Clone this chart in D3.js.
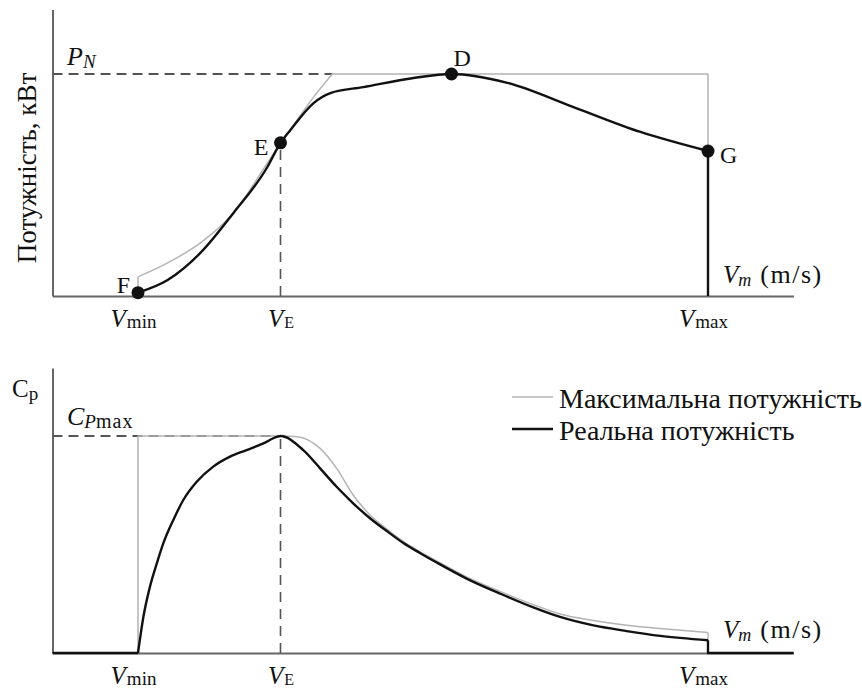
<!DOCTYPE html>
<html>
<head>
<meta charset="utf-8">
<script src="https://cdn.jsdelivr.net/npm/d3@7"></script>
<style>
  body { margin: 0; background: #fff; }
  svg { display: block; }
  text { font-family: "Liberation Serif", "Times New Roman", serif; fill: #111; }
</style>
</head>
<body>
<svg id="chart" width="862" height="690"></svg>
<script>
// Wind speed (m/s): cut-in, rated (point E) and cut-out speeds
const windDomain = [0, 26];
const speedTicks = [3, 8, 23];
const speedTickSubs = ["min", "E", "max"];

// Upper panel: power, normalised to the rated power P_N = 1
const powerMaxFoot = [[3, 0.015], [3, 0.086]];
const powerMaxRise = [[3, 0.086], [4.04, 0.149], [5.19, 0.239], [6.35, 0.374], [7.54, 0.599],
                      [8.0, 0.69], [8.35, 0.75], [9.16, 0.896], [9.82, 1.0]];
const powerMaxCap = [[9.82, 1.0], [23, 1.0], [23, 0.653]];
const powerReal = [[3, 0.015], [4.04, 0.072], [5.19, 0.194], [6.35, 0.374], [7.54, 0.581],
                   [8.0, 0.69], [8.35, 0.748], [9.16, 0.869], [9.75, 0.914], [10.91, 0.941],
                   [12.67, 0.982], [14, 1.0], [15.96, 0.96], [18.28, 0.851], [20.63, 0.739], [23, 0.653]];
const powerRealCut = [[23, 0.653], [23, 0]];
const powerPointNames = ["F", "E", "D", "G"];
const powerPointSpeeds = [3, 8, 14, 23];
const powerPointValues = [0.015, 0.69, 1.0, 0.653];

// Lower panel: power coefficient, normalised to C_Pmax = 1
const cpMaxStep = [[3, 0], [3, 1], [8, 1]];
const cpMaxFall = [[8, 1], [8.58, 0.997], [9.39, 0.943], [9.97, 0.851], [10.55, 0.728], [11.14, 0.636],
                   [11.73, 0.572], [12.31, 0.514], [12.89, 0.467], [13.48, 0.424], [14.53, 0.351],
                   [15.7, 0.284], [16.87, 0.223], [17.81, 0.18], [18.98, 0.15], [20.15, 0.128],
                   [21.32, 0.113], [23, 0.094]];
const cpMaxCut = [[23, 0.094], [23, 0.059]];
const cpRealIdle = [[0, 0], [3, 0]];
const cpReal = [[3, 0], [3.19, 0.167], [3.42, 0.306], [3.66, 0.413], [3.89, 0.506], [4.24, 0.613],
                [4.59, 0.705], [5.06, 0.789], [5.64, 0.859], [6.23, 0.905], [6.81, 0.935], [7.4, 0.966],
                [7.87, 0.996], [8, 1.0], [8.8, 0.935], [9.39, 0.851], [9.97, 0.766], [10.55, 0.69],
                [11.14, 0.621], [11.73, 0.562], [12.31, 0.507], [12.89, 0.461], [13.48, 0.417],
                [14.53, 0.343], [15.7, 0.274], [16.87, 0.21], [17.81, 0.166], [18.98, 0.127],
                [20.15, 0.101], [21.32, 0.079], [23, 0.059]];
const cpRealCut = [[23, 0.059], [23, 0], [26, 0]];

const legendLabels = ["Максимальна потужність", "Реальна потужність"];

const svg = d3.select("#chart");
const x = d3.scaleLinear().domain(windDomain).range([52.5, 793.5]);
const yTop = d3.scaleLinear().domain([0, 1]).range([296, 74]);
const yBot = d3.scaleLinear().domain([0, 1]).range([653, 436]);

const GREY = "#b4b4b4", BLACK = "#111", AXIS = "#666", DASH = "#555";

function drawAxes(y, yTopValue) {
  const yAxisScale = y.copy().domain([0, yTopValue]).range([y(0), y(yTopValue)]);
  const gy = svg.append("g").attr("transform", `translate(${x(0)},0)`)
    .call(d3.axisLeft(yAxisScale).tickValues([]).tickSizeOuter(0));
  gy.select(".domain").attr("stroke", AXIS).attr("stroke-width", 2);

  const gx = svg.append("g").attr("transform", `translate(0,${y(0)})`)
    .call(d3.axisBottom(x).tickValues(speedTicks).tickSize(0).tickSizeOuter(0).tickFormat(() => ""));
  gx.select(".domain").attr("stroke", AXIS).attr("stroke-width", 2);
  gx.selectAll(".tick text").each(function (d, i) {
    const t = d3.select(this)
      .attr("y", 31).attr("dy", null)
      .attr("dx", i === 1 ? 0 : -5)
      .attr("fill", BLACK).attr("text-anchor", "middle")
      .attr("font-family", "Liberation Serif");
    t.append("tspan").attr("font-style", "italic").attr("font-size", 25).text("V");
    t.append("tspan").attr("font-size", i === 1 ? 16 : 19).attr("dy", 1).attr("dx", 1).text(speedTickSubs[i]);
  });
}

function curve(data, y, color, width, kind) {
  svg.append("path").datum(data)
    .attr("fill", "none").attr("stroke", color).attr("stroke-width", width)
    .attr("stroke-linejoin", "round")
    .attr("d", d3.line().x(d => x(d[0])).y(d => y(d[1])).curve(kind));
}

function axisTitle(px, py) {
  const t = svg.append("text").attr("x", px).attr("y", py);
  t.append("tspan").attr("font-style", "italic").attr("font-size", 25).text("V");
  t.append("tspan").attr("font-style", "italic").attr("font-size", 18).attr("dy", 3).text("m");
  t.append("tspan").attr("font-size", 26).attr("dy", -3).attr("dx", 9)
    .attr("letter-spacing", 1.5).text("(m/s)");
}

// ---------- Upper panel ----------
drawAxes(yTop, 1.29);

// rated power and rated speed guides
svg.append("line")
  .attr("x1", x(0)).attr("x2", x(9.82)).attr("y1", yTop(1)).attr("y2", yTop(1))
  .attr("stroke", DASH).attr("stroke-width", 2).attr("stroke-dasharray", "10,6");
svg.append("line")
  .attr("x1", x(speedTicks[1])).attr("x2", x(speedTicks[1]))
  .attr("y1", yTop(0)).attr("y2", yTop(powerPointValues[1]))
  .attr("stroke", DASH).attr("stroke-width", 1.6).attr("stroke-dasharray", "10,7");

curve(powerMaxFoot, yTop, GREY, 1.5, d3.curveLinear);
curve(powerMaxRise, yTop, GREY, 1.5, d3.curveMonotoneX);
curve(powerMaxCap, yTop, GREY, 1.5, d3.curveLinear);
curve(powerReal, yTop, BLACK, 2.4, d3.curveMonotoneX);
curve(powerRealCut, yTop, BLACK, 2.4, d3.curveLinear);

const pts = powerPointNames.map((n, i) => ({ name: n, v: powerPointSpeeds[i], p: powerPointValues[i] }));
svg.selectAll("circle.pt").data(pts).join("circle")
  .attr("class", "pt")
  .attr("cx", d => x(d.v)).attr("cy", d => yTop(d.p)).attr("r", 6.5).attr("fill", BLACK);
const labelOffset = { F: [-8, 0, "end"], E: [-12, 12, "end"], D: [2, -8, "start"], G: [12, 12, "start"] };
svg.selectAll("text.pt").data(pts).join("text")
  .attr("class", "pt")
  .attr("x", d => x(d.v) + labelOffset[d.name][0])
  .attr("y", d => yTop(d.p) + labelOffset[d.name][1])
  .attr("text-anchor", d => labelOffset[d.name][2])
  .attr("font-size", 24)
  .text(d => d.name);

// P_N label
const pn = svg.append("text").attr("x", 67).attr("y", 65);
pn.append("tspan").attr("font-style", "italic").attr("font-size", 26).text("P");
pn.append("tspan").attr("font-style", "italic").attr("font-size", 19).attr("dy", 3).text("N");

// y-axis title
svg.append("text")
  .attr("transform", "translate(36,168) rotate(-90)")
  .attr("text-anchor", "middle").attr("font-size", 27)
  .text("Потужність, кВт");

axisTitle(723, yTop(0) - 13);

// ---------- Lower panel ----------
drawAxes(yBot, 1.313);

svg.append("line")
  .attr("x1", x(0)).attr("x2", x(speedTicks[1])).attr("y1", yBot(1)).attr("y2", yBot(1))
  .attr("stroke", DASH).attr("stroke-width", 2).attr("stroke-dasharray", "10,6");
svg.append("line")
  .attr("x1", x(speedTicks[1])).attr("x2", x(speedTicks[1]))
  .attr("y1", yBot(0)).attr("y2", yBot(1))
  .attr("stroke", DASH).attr("stroke-width", 1.6).attr("stroke-dasharray", "10,7");

curve(cpMaxStep, yBot, GREY, 1.5, d3.curveLinear);
curve(cpMaxFall, yBot, GREY, 1.5, d3.curveMonotoneX);
curve(cpMaxCut, yBot, GREY, 1.5, d3.curveLinear);
curve(cpRealIdle, yBot, BLACK, 2.4, d3.curveLinear);
curve(cpReal, yBot, BLACK, 2.4, d3.curveMonotoneX);
curve(cpRealCut, yBot, BLACK, 2.4, d3.curveLinear);

// C_p and C_Pmax labels
const cp = svg.append("text").attr("x", 12).attr("y", 397);
cp.append("tspan").attr("font-size", 25).text("C");
cp.append("tspan").attr("font-size", 19).attr("dy", 3).text("p");
const cpm = svg.append("text").attr("x", 67).attr("y", 425);
cpm.append("tspan").attr("font-style", "italic").attr("font-size", 26).text("C");
cpm.append("tspan").attr("font-style", "italic").attr("font-size", 19).attr("dy", 3).text("P");
cpm.append("tspan").attr("font-size", 20).attr("letter-spacing", 1).text("max");

axisTitle(723, yBot(0) - 15);

// legend
const legend = svg.append("g");
legendLabels.forEach((label, i) => {
  const ly = 397 + i * 32;
  legend.append("line").attr("x1", 512).attr("x2", 553).attr("y1", ly).attr("y2", ly)
    .attr("stroke", i === 0 ? GREY : BLACK).attr("stroke-width", i === 0 ? 1.5 : 2.4);
  legend.append("text").attr("x", 559).attr("y", ly + 11).attr("font-size", 28).text(label);
});
</script>
</body>
</html>
